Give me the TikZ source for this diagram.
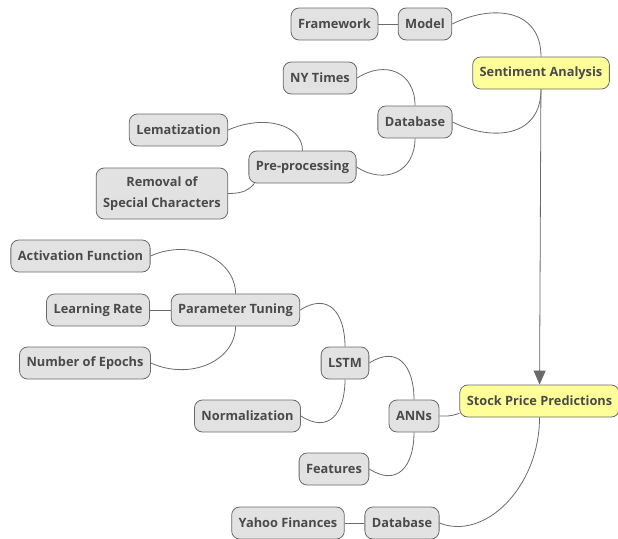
\documentclass[tikz,border=0pt]{standalone}
\usepackage{fontspec}
\setmainfont{Open Sans}
\usepackage{xcolor}
\usepackage{tikz}
\usetikzlibrary{arrows.meta}

\definecolor{boxgray}{HTML}{E2E2E2}
\definecolor{boxline}{HTML}{6A6A6A}
\definecolor{boxtext}{HTML}{4A4A4A}
\definecolor{topicfill}{HTML}{FFFF99}

\begin{document}
\begin{tikzpicture}[x=1pt, y=-1pt,
    item/.style={rectangle, draw=boxline, thick, rounded corners=8pt, fill=boxgray, minimum height=32pt, inner xsep=7pt, align=center, font=\fontsize{12.8}{21}\selectfont\bfseries, text=boxtext},
    topic/.style={item, fill=topicfill},
    link/.style={boxline, line width=0.8pt},
    flow/.style={-{Triangle[length=14pt, width=12pt]}, boxline, line width=0.8pt}
]
    \useasboundingbox (0,0) rectangle (618,538);
    % Sentiment side
    \node[topic] (sa) at (541, 73) {Sentiment Analysis};
    \node[item] (model) at (425, 24) {Model};
    \node[item] (frame) at (334.5, 24) {Framework};
    \node[item] (db1) at (415, 122) {Database};
    \node[item] (nyt) at (320, 78) {NY Times};
    \node[item] (pre) at (302.5, 167) {Pre-processing};
    \node[item] (lem) at (178.5, 130) {Lematization};
    \node[item, minimum height=51pt] (rem) at (162, 193.5) {Removal of\\Special Characters};
    % Prediction side
    \node[topic] (spp) at (539.5, 401) {Stock Price Predictions};
    \node[item] (anns) at (414, 416) {ANNs};
    \node[item] (lstm) at (345, 363) {LSTM};
    \node[item] (feat) at (334, 469) {Features};
    \node[item] (norm) at (247.5, 416) {Normalization};
    \node[item] (tune) at (235.5, 310) {Parameter Tuning};
    \node[item] (act) at (80.5, 256) {Activation Function};
    \node[item] (rate) at (98, 310) {Learning Rate};
    \node[item] (epoch) at (85, 363) {Number of Epochs};
    \node[item] (db2) at (402, 523) {Database};
    \node[item] (yahoo) at (288, 523) {Yahoo Finances};
    % links
    \draw[link] (frame) -- (model);
    \draw[link] (model.east) .. controls +(40,-20) and +(0,-48) .. (sa.north);
    \draw[link] (db1.east) .. controls +(40,20) and +(0,48) .. (sa.south);
    \draw[link] (nyt.east) .. controls +(28,-18) and +(0,-34) .. (db1.north);
    \draw[link] (pre.east) .. controls +(28,18) and +(0,34) .. (db1.south);
    \draw[link] (lem.east) .. controls +(36,-16) and +(0,-26) .. (pre.north);
    \draw[link] (rem.east) .. controls +(14,0) and +(-6,7) .. ([xshift=6pt]pre.south west);
    \draw[flow] (sa) -- (spp);
    \draw[link] (anns.east) .. controls +(10,0) and +(-10,3) .. ([yshift=4pt]spp.south west);
    \draw[link] (lstm.east) .. controls +(28,-18) and +(0,-34) .. (anns.north);
    \draw[link] (feat.east) .. controls +(28,18) and +(0,34) .. (anns.south);
    \draw[link] (tune.east) .. controls +(28,-18) and +(0,-34) .. (lstm.north);
    \draw[link] (norm.east) .. controls +(28,18) and +(0,34) .. (lstm.south);
    \draw[link] (act.east) .. controls +(40,-18) and +(0,-34) .. (tune.north);
    \draw[link] (rate) -- (tune);
    \draw[link] (epoch.east) .. controls +(40,18) and +(0,34) .. (tune.south);
    \draw[link] (db2.east) .. controls +(45,18) and +(0,70) .. (spp.south);
    \draw[link] (yahoo) -- (db2);
\end{tikzpicture}
\end{document}
